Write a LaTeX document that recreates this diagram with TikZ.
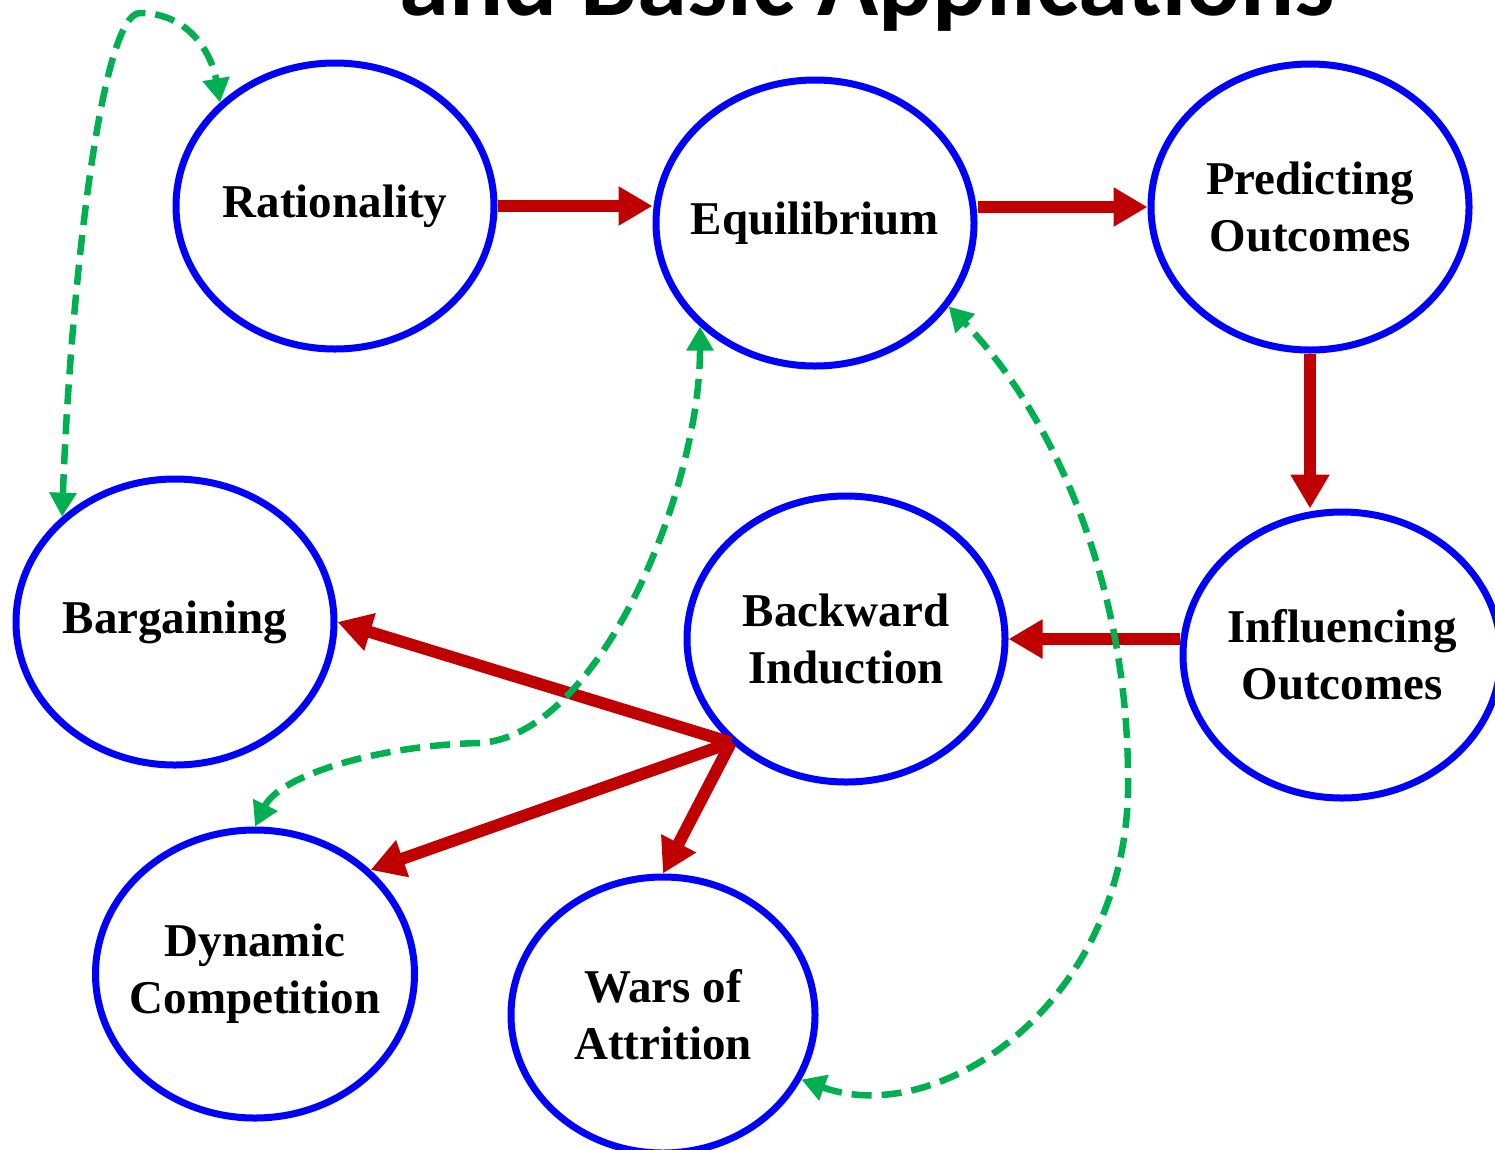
\documentclass[tikz,border=0pt]{standalone}
\usepackage{fontspec}
\setmainfont{Liberation Serif}
\newfontfamily\headfont{Carlito}
\usetikzlibrary{arrows.meta,shapes.geometric}
\definecolor{ringblue}{HTML}{0000FF}
\definecolor{flowred}{HTML}{C00000}
\definecolor{linkgreen}{HTML}{00B050}
\tikzset{
  topic/.style={ellipse, draw=ringblue, line width=7pt, fill=white, align=center,
    minimum width=318pt, minimum height=286pt, inner xsep=-20pt, inner ysep=0pt,
    font=\bfseries\fontsize{47}{57}\selectfont},
  flow/.style={-{Triangle[length=34pt,width=37pt]}, line width=12pt, draw=flowred},
  link/.style={{Triangle[length=24pt,width=26pt]}-{Triangle[length=24pt,width=26pt]},
    line width=6.5pt, draw=linkgreen, dash pattern=on 20pt off 10pt}
}
\begin{document}
\begin{tikzpicture}[x=1pt, y=-1pt]
  \useasboundingbox (0,0) rectangle (1495,1149);
  \node[anchor=base, inner sep=0pt, font=\headfont\bfseries\fontsize{101}{110}\selectfont] (title) at (867,15) {and Basic Applications};
  \node[topic] (rat) at (335,206) {Rationality};
  \node[topic] (equ) at (815,223) {Equilibrium};
  \node[topic] (pre) at (1310,207) {Predicting\\Outcomes};
  \node[topic] (inf) at (1342,655) {Influencing\\Outcomes};
  \node[topic] (back) at (846,639) {Backward\\Induction};
  \node[topic] (bar) at (175,622) {Bargaining};
  \node[topic, minimum width=319pt, minimum height=288pt] (dyn) at (255,974) {Dynamic\\Competition};
  \node[topic, minimum width=304pt, minimum height=276pt] (war) at (663,1015) {Wars of\\Attrition};
  \draw[flow] (rat.east) -- (rat.east -| equ.west);
  \draw[flow] (pre.west -| equ.east) -- (pre.west);
  \draw[flow] (pre.south) -- (pre.south |- inf.north);
  \draw[flow] (back.east -| inf.west) -- (back.east);
  \draw[flow] (back.222) -- (bar.east);
  \draw[flow] (back.222) -- (dyn.42);
  \draw[flow] (back.222) -- (war.north);
  \draw[link] (bar.137) .. controls (70,300) and (100,13) .. (140,13) .. controls (190,13) and (212,55) .. (rat.138);
  \draw[link] (dyn.north) .. controls (280,775) and (380,745) .. (480,743) .. controls (600,735) and (700,490) .. (equ.222);
  \draw[link] (war.335) .. controls (940,1130) and (1135,1000) .. (1128,770) .. controls (1125,560) and (1040,400) .. (equ.328);
\end{tikzpicture}
\end{document}
